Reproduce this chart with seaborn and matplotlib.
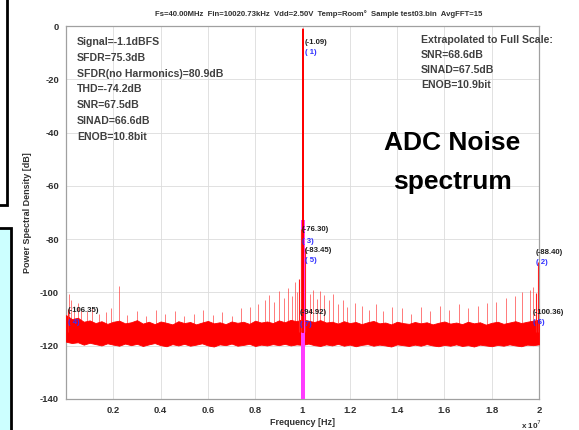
import matplotlib
matplotlib.use("Agg")
import matplotlib.pyplot as plt
import seaborn as sns
import numpy as np
import pandas as pd
from matplotlib.patches import Rectangle

# ---------------- data (frequency in units of 1e7 Hz, level in dB) ----------------
title_text = "Fs=40.00MHz  Fin=10020.73kHz  Vdd=2.50V  Temp=Room°  Sample test03.bin  AvgFFT=15"
xtick_vals = [0.2, 0.4, 0.6, 0.8, 1.0, 1.2, 1.4, 1.6, 1.8, 2.0]
xtick_labels = ["0.2", "0.4", "0.6", "0.8", "1", "1.2", "1.4", "1.6", "1.8", "2"]
ytick_vals = [0, -20, -40, -60, -80, -100, -120, -140]

# noise floor envelope
floor_f = [0.00, 0.025, 0.05, 0.075, 0.10, 0.125, 0.15, 0.175, 0.20, 0.225, 0.25, 0.275,
           0.30, 0.325, 0.35, 0.375, 0.40, 0.425, 0.45, 0.475, 0.50, 0.525, 0.55, 0.575,
           0.60, 0.625, 0.65, 0.675, 0.70, 0.725, 0.75, 0.775, 0.80, 0.825, 0.85, 0.875,
           0.90, 0.925, 0.95, 0.975, 1.00, 1.025, 1.05, 1.075, 1.10, 1.125, 1.15, 1.175,
           1.20, 1.225, 1.25, 1.275, 1.30, 1.325, 1.35, 1.375, 1.40, 1.425, 1.45, 1.475,
           1.50, 1.525, 1.55, 1.575, 1.60, 1.625, 1.65, 1.675, 1.70, 1.725, 1.75, 1.775,
           1.80, 1.825, 1.85, 1.875, 1.90, 1.925, 1.95, 1.975, 2.00]
floor_hi = [-108.5, -110.0, -109.5, -111.0, -110.5, -111.5, -110.8, -111.8, -111.0, -110.6, -111.6, -111.2,
            -110.4, -111.7, -111.0, -111.9, -110.9, -111.4, -112.0, -110.8, -111.5, -111.1, -112.0, -111.3,
            -110.7, -111.6, -111.2, -111.9, -110.9, -111.4, -111.0, -111.8, -110.6, -111.3, -110.9, -111.5,
            -110.5, -111.2, -110.3, -110.8, -110.0, -110.6, -111.1, -110.4, -111.3, -111.0, -111.7, -110.8,
            -111.5, -111.1, -111.9, -111.2, -110.7, -111.6, -111.3, -112.0, -111.0, -111.5, -111.8, -111.1,
            -111.6, -111.2, -112.0, -111.4, -110.9, -111.7, -111.3, -111.9, -111.0, -111.6, -111.2, -112.1,
            -111.4, -111.0, -111.8, -111.3, -110.8, -111.5, -111.0, -110.6, -110.2]
floor_lo = [-118.5, -119.0, -118.7, -119.6, -118.9, -119.4, -119.9, -119.1, -119.6, -120.0, -119.2, -119.8,
            -119.3, -120.1, -119.5, -119.0, -119.8, -120.2, -119.4, -119.9, -119.3, -120.0, -119.6, -119.1,
            -119.9, -120.3, -119.5, -119.8, -119.2, -120.0, -119.7, -119.3, -120.1, -119.6, -119.9, -119.4,
            -119.8, -119.3, -119.9, -119.5, -119.7, -119.2, -119.8, -120.1, -119.5, -119.9, -119.3, -120.0,
            -119.6, -120.2, -119.7, -119.4, -120.0, -119.6, -119.9, -120.3, -119.5, -119.8, -120.1, -119.6,
            -120.0, -119.4, -119.9, -120.2, -119.7, -120.0, -119.5, -120.1, -119.8, -120.3, -119.6, -119.9,
            -120.2, -119.7, -120.0, -119.5, -119.9, -120.2, -119.6, -119.8, -119.5]

# spurs
spur_f = [0.012, 0.02, 0.035, 0.05, 0.065, 0.09, 0.11, 0.14, 0.17, 0.19, 0.225, 0.26, 0.30,
          0.34, 0.38, 0.42, 0.46, 0.50, 0.54, 0.58, 0.62, 0.66, 0.70, 0.74, 0.78, 0.81,
          0.84, 0.86, 0.88, 0.90, 0.92, 0.94, 0.955, 0.97, 0.978, 1.012, 1.03, 1.045,
          1.06, 1.075, 1.09, 1.11, 1.13, 1.15, 1.17, 1.19, 1.22, 1.25, 1.28, 1.31, 1.34,
          1.38, 1.42, 1.46, 1.50, 1.54, 1.58, 1.62, 1.66, 1.70, 1.74, 1.78, 1.82, 1.86,
          1.90, 1.93, 1.96, 1.975]
spur_db = [-100.5, -103.0, -105.0, -104.0, -106.5, -107.0, -105.5, -108.0, -107.5, -106.0, -97.5, -108.5, -107.0,
           -109.0, -106.5, -108.0, -107.0, -109.0, -108.0, -106.5, -108.5, -107.5, -109.0, -106.0, -105.5, -104.5,
           -103.0, -101.0, -103.5, -99.5, -102.0, -98.5, -101.5, -96.0, -100.0, -97.5, -100.5, -99.0,
           -102.5, -99.5, -101.0, -103.0, -100.5, -104.5, -103.0, -105.5, -104.0, -105.0, -106.5, -104.5, -107.0,
           -105.5, -106.0, -108.0, -105.5, -107.0, -105.0, -106.5, -104.5, -106.0, -105.0, -104.0, -103.5, -102.0,
           -101.5, -100.0, -99.0, -98.0]

# signal and harmonics
marker_f = [1.0020, 1.9959, 0.9938, 0.0083, 1.0103, 1.9876, 0.9856]
marker_db = [-1.09, -88.40, -76.30, -106.35, -83.45, -100.36, -94.92]
marker_id = ["( 1)", "( 2)", "( 3)", "( 4)", "( 5)", "( 6)", "( 7)"]
marker_txt = ["(-1.09)", "(-88.40)", "(-76.30)", "(-106.35)", "(-83.45)", "(-100.36)", "(-94.92)"]

stats_left = ["Signal=-1.1dBFS", "SFDR=75.3dB", "SFDR(no Harmonics)=80.9dB", "THD=-74.2dB",
              "SNR=67.5dB", "SINAD=66.6dB", "ENOB=10.8bit"]
stats_right = ["Extrapolated to Full Scale:", "SNR=68.6dB", "SINAD=67.5dB", "ENOB=10.9bit"]

# ---------------- layout (pixel positions of marker labels: left x, value-line y) ----------------
label_px = [(305, 42), (536, 252), (302, 230), (68, 311), (305, 250), (533, 312), (300, 313)]

# ---------------- styling ----------------
sns.set_theme(style="whitegrid")
plt.rcParams['font.family'] = ['Liberation Sans', 'DejaVu Sans']

W, H = 579, 430
fig = plt.figure(figsize=(W / 100, H / 100), dpi=100)
fig.patch.set_facecolor("white")
ax = fig.add_axes([66 / W, 1 - 399 / H, (539 - 66) / W, (399 - 26) / H])
ax.set_facecolor("white")

# noise band
ax.fill_between(floor_f, floor_lo, floor_hi, color="#ff0000", linewidth=0.6, edgecolor="#ff0000", zorder=3)

# spurs
ax.vlines(spur_f, -118, spur_db, color="#ff3030", linewidth=0.6, alpha=0.75, zorder=2)

# magenta signal bins band
ax.fill_between([0.993, 1.012], -140, -73, color="#ff3cff", linewidth=0, zorder=4)

# main signal and harmonic lines
sig_df = pd.DataFrame({"f": [1.0, 1.002, 1.004], "db": [-115, marker_db[0], -115]})
sns.lineplot(data=sig_df, x="f", y="db", ax=ax, color="#ff0000", linewidth=0.9, zorder=5, estimator=None)
ax.vlines(marker_f[1:], -115, marker_db[1:], color="#ff2020", linewidth=0.8, zorder=5)

# marker labels
for i in range(len(marker_f)):
    px, py = label_px[i]
    fig.text(px / W, 1 - py / H, marker_txt[i], fontsize=5.6, fontweight="bold", color="#202020",
             ha="left", va="center", zorder=6)
    fig.text(px / W, 1 - (py + 11) / H, marker_id[i], fontsize=5.6, fontweight="bold", color="#3030ff",
             ha="left", va="center", zorder=6)

# axes settings
ax.set_xlim(0, 2.0)
ax.set_ylim(-140, 0)
ax.set_xticks(xtick_vals)
ax.set_xticklabels(xtick_labels)
ax.set_yticks(ytick_vals)
ax.set_yticklabels([str(v) for v in ytick_vals])
ax.tick_params(axis="both", labelsize=6.8, colors="#303030", length=2, direction="in", pad=5)
for lab in ax.get_xticklabels() + ax.get_yticklabels():
    lab.set_fontweight("bold")
ax.grid(True, color="#dcdcdc", linewidth=0.6)
for s in ax.spines.values():
    s.set_color("#a0a0a0")
    s.set_linewidth(0.9)

ax.set_xlabel("Frequency [Hz]", fontsize=6.5, fontweight="bold", color="#303030", labelpad=2)
ax.set_ylabel("Power Spectral Density [dB]", fontsize=6.5, fontweight="bold", color="#303030", labelpad=6)
fig.text(319 / W, 1 - 14 / H, title_text, fontsize=5.6, fontweight="bold", color="#303030",
         ha="center", va="center")
fig.text(521 / W, 1 - 425 / H, "x 10$^7$", fontsize=5.8, fontweight="bold", color="#303030",
         ha="left", va="center")

# stats text
for i, s in enumerate(stats_left):
    fig.text(77 / W, 1 - (42 + i * 15.8) / H, s, fontsize=7.6, fontweight="bold", color="#404040",
             ha="left", va="center")
for i, s in enumerate(stats_right):
    fig.text(421 / W, 1 - (40 + i * 15.1) / H, s, fontsize=7.6, fontweight="bold", color="#404040",
             ha="left", va="center")

# big annotation
fig.text(452 / W, 1 - 143 / H, "ADC Noise", fontsize=19, fontweight="bold", color="black",
         ha="center", va="center")
fig.text(452 / W, 1 - 182 / H, "spectrum", fontsize=19, fontweight="bold", color="black",
         ha="center", va="center")

# cropped slide fragments on the left edge
fig.add_artist(Rectangle((-0.01, 1 - 205 / H), 13 / W, 205 / H + 0.01, transform=fig.transFigure,
                         facecolor="white", edgecolor="black", linewidth=2, zorder=10))
fig.add_artist(Rectangle((-0.01, -0.01), 17 / W, (430 - 228) / H + 0.01, transform=fig.transFigure,
                         facecolor="#ccffff", edgecolor="black", linewidth=2, zorder=10))

fig.savefig("out.png", dpi=100)
